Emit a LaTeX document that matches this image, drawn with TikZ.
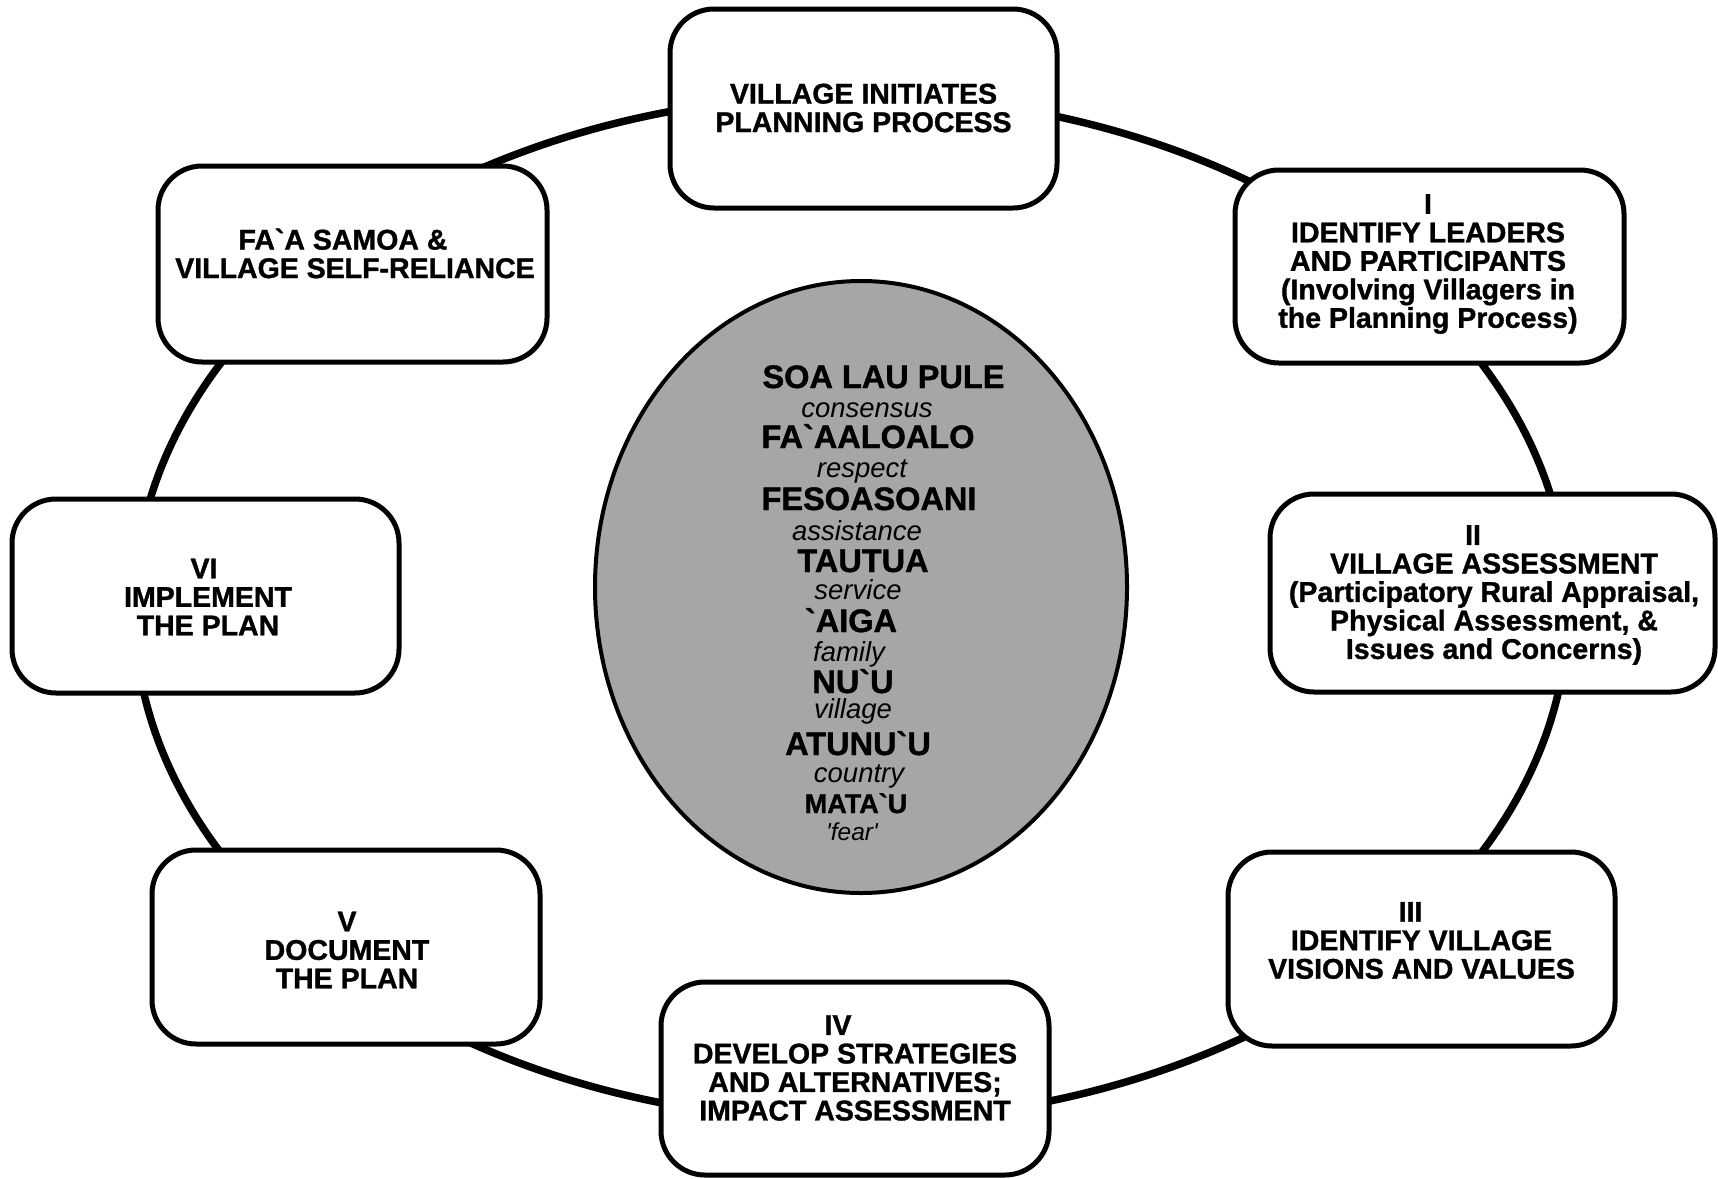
\documentclass[tikz,border=0pt]{standalone}
\usepackage{fontspec}
\newfontfamily\lsans{Liberation Sans}[BoldFeatures={FakeBold=1.2}]
\usetikzlibrary{shapes.geometric}
\definecolor{coregray}{gray}{0.65}
\begin{document}
\begin{tikzpicture}[x=1pt,y=-1pt,
  stage/.style={draw, line width=5pt, fill=white, rounded corners=44pt, inner sep=0pt},
  btext/.style={font=\lsans\bfseries\fontsize{28.5}{28.5}\selectfont, align=center, inner sep=0pt},
  bw/.style={font=\lsans\bfseries\fontsize{32.5}{32.5}\selectfont, anchor=base, inner sep=0pt},
  iw/.style={font=\lsans\itshape\fontsize{27.5}{27.5}\selectfont, anchor=base, inner sep=0pt}]
\useasboundingbox (0,0) rectangle (1718,1178);
% outer cycle
\node[draw, ellipse, line width=7.5pt, inner sep=0pt, minimum width=1434pt, minimum height=1026pt] (ring) at (851,608) {};
% central values
\node[draw, ellipse, line width=4pt, fill=coregray, inner sep=0pt, minimum width=532pt, minimum height=612pt] (core) at (861,587) {};
\node[bw] (w1) at (883.5,388) {SOA LAU PULE};
\node[iw] (w2) at (867,417) {consensus};
\node[bw] (w3) at (868,448) {FA`AALOALO};
\node[iw] (w4) at (862,477) {respect};
\node[bw] (w5) at (869,510) {FESOASOANI};
\node[iw] (w6) at (857,540) {assistance};
\node[bw] (w7) at (863,572) {TAUTUA};
\node[iw] (w8) at (858,599) {service};
\node[bw] (w9) at (851,632) {`AIGA};
\node[iw] (w10) at (849,661) {family};
\node[bw] (w11) at (853,693) {NU`U};
\node[iw] (w12) at (853,718) {village};
\node[bw] (w13) at (858,755) {ATUNU`U};
\node[iw] (w14) at (859,782) {country};
\node[bw, font=\lsans\bfseries\fontsize{27}{27}\selectfont] (w15) at (856,813) {MATA`U};
\node[iw, font=\lsans\itshape\fontsize{24.5}{24.5}\selectfont] (w16) at (852,840) {'fear'};
% stages
\node[stage, minimum width=387pt, minimum height=199pt] (s0) at (863.5,108.5) {};
\node[btext] (s0t) at (863.5,108) {VILLAGE INITIATES\\PLANNING PROCESS};
\node[stage, minimum width=389pt, minimum height=193pt] (s1) at (1429.5,266.5) {};
\node[btext] (s1t) at (1428,264) {I\\IDENTIFY LEADERS\\AND PARTICIPANTS\\(Involving Villagers in\\the Planning Process)};
\node[stage, minimum width=445pt, minimum height=198pt] (s2) at (1492.5,593) {};
\node[btext] (s2t) at (1494,595) {II\hspace*{42pt}\\VILLAGE ASSESSMENT\\(Participatory Rural Appraisal,\\Physical Assessment, \&\\Issues and Concerns)};
\node[stage, minimum width=387pt, minimum height=194pt] (s3) at (1421.5,949) {};
\node[btext] (s3t) at (1421.5,940.5) {III\hspace*{22pt}\\IDENTIFY VILLAGE\\VISIONS AND VALUES};
\node[stage, minimum width=388pt, minimum height=193pt] (s4) at (855,1078.5) {};
\node[btext] (s4t) at (855,1068) {IV\hspace*{34pt}\\DEVELOP STRATEGIES\\AND ALTERNATIVES;\\IMPACT ASSESSMENT};
\node[stage, minimum width=388pt, minimum height=194pt] (s5) at (346,947) {};
\node[btext] (s5t) at (347,950) {V\\DOCUMENT\\THE PLAN};
\node[stage, minimum width=387pt, minimum height=194pt] (s6) at (205.5,596) {};
\node[btext] (s6t) at (208,597) {VI\hspace*{8pt}\\IMPLEMENT\\THE PLAN};
\node[stage, minimum width=389pt, minimum height=196pt] (s7) at (352.5,264) {};
\node[btext] (s7t) at (355,253.5) {FA`A SAMOA \&\hspace*{24pt}\\VILLAGE SELF-RELIANCE};
\end{tikzpicture}
\end{document}
